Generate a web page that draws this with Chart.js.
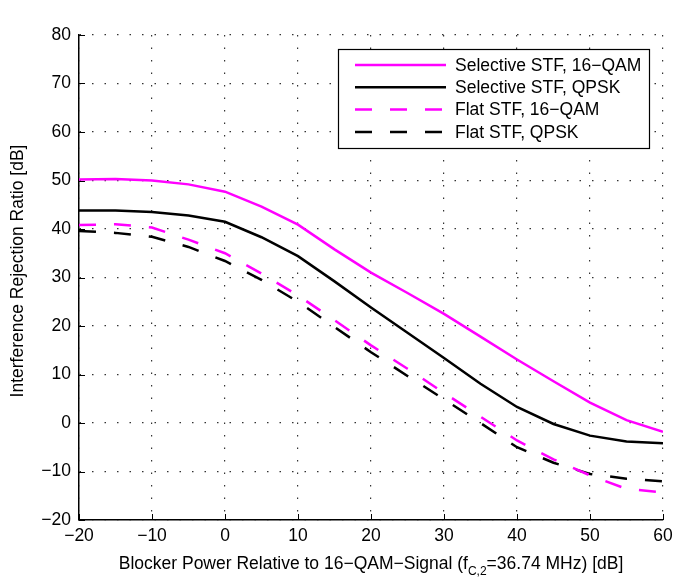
<!DOCTYPE html>
<html>
<head>
<meta charset="utf-8">
<script src="https://cdn.jsdelivr.net/npm/chart.js@4"></script>
<style>
  body { margin: 0; background: #fff; }
</style>
</head>
<body>
<canvas id="chartDiv" width="685" height="587"></canvas>
<script>
const blockerPower = [-20, -15, -10, -5, 0, 5, 10, 15, 20, 25, 30, 35, 40, 45, 50, 55, 60];
const selective16qam = [50.2, 50.3, 50.0, 49.2, 47.7, 44.6, 40.9, 35.8, 31.0, 26.8, 22.5, 17.8, 13.1, 8.6, 4.2, 0.6, -1.8];
const selectiveQpsk = [43.8, 43.8, 43.5, 42.8, 41.5, 38.3, 34.4, 29.2, 23.8, 18.6, 13.4, 8.1, 3.3, -0.2, -2.6, -3.8, -4.2];
const flat16qam = [40.8, 41.0, 40.3, 37.8, 35.0, 30.8, 26.3, 21.2, 16.0, 11.2, 6.2, 1.3, -3.6, -7.5, -10.8, -13.6, -14.3];
const flatQpsk = [39.6, 39.2, 38.4, 36.3, 33.4, 29.5, 25.0, 19.8, 14.6, 9.7, 4.9, 0.0, -5.0, -8.2, -10.5, -11.5, -12.0];
const seriesNames = ["Selective STF, 16\u2212QAM", "Selective STF, QPSK", "Flat STF, 16\u2212QAM", "Flat STF, QPSK"];

const FONT = "'Liberation Sans', Arial, sans-serif";
const FS = 17.5;
const MAGENTA = "#f0f";
const DASH = [17, 18];

const toPoints = (ys) => ys.map((y, i) => ({ x: blockerPower[i], y }));
const minus = (v) => String(v).replace("-", "\u2212");

// matlab style: inward ticks, legend box, axis labels (x one has a subscript)
const matlabBits = {
  id: "matlabBits",
  afterDraw(chart) {
    const { ctx, chartArea: a, scales } = chart;
    ctx.save();
    ctx.strokeStyle = "#000";
    ctx.lineWidth = 1;
    ctx.setLineDash([]);
    scales.y.ticks.forEach((t) => {
      const y = Math.round(scales.y.getPixelForValue(t.value)) + 0.5;
      ctx.beginPath();
      ctx.moveTo(a.left, y);
      ctx.lineTo(a.left + 6, y);
      ctx.stroke();
    });
    scales.x.ticks.forEach((t) => {
      const x = Math.round(scales.x.getPixelForValue(t.value)) + 0.5;
      ctx.beginPath();
      ctx.moveTo(x, a.bottom);
      ctx.lineTo(x, a.bottom - 6);
      ctx.stroke();
    });

    // legend
    const bx = 338, by = 49, bw = 311, bh = 99;
    ctx.fillStyle = "#fff";
    ctx.fillRect(bx, by, bw, bh);
    ctx.lineWidth = 1.2;
    ctx.strokeRect(bx + 0.5, by + 0.5, bw, bh);
    ctx.font = FS + "px " + FONT;
    ctx.textBaseline = "middle";
    chart.data.datasets.forEach((ds, i) => {
      const y = 65 + i * 22.3;
      ctx.strokeStyle = ds.borderColor;
      ctx.lineWidth = ds.borderWidth;
      ctx.setLineDash(ds.borderDash || []);
      ctx.beginPath();
      ctx.moveTo(355, y);
      ctx.lineTo(446, y);
      ctx.stroke();
      ctx.fillStyle = "#000";
      ctx.fillText(ds.label, 455, y + 1);
    });
    ctx.setLineDash([]);

    // y label
    ctx.save();
    ctx.translate(18, 271);
    ctx.rotate(-Math.PI / 2);
    ctx.textAlign = "center";
    ctx.textBaseline = "middle";
    ctx.font = FS + "px " + FONT;
    ctx.fillText("Interference Rejection Ratio [dB]", 0, 0);
    ctx.restore();

    // x label
    const p1 = "Blocker Power Relative to 16\u2212QAM\u2212Signal (f";
    const sub = "C,2";
    const p2 = "=36.74 MHz) [dB]";
    ctx.font = FS + "px " + FONT;
    const w1 = ctx.measureText(p1).width, w2 = ctx.measureText(p2).width;
    ctx.font = "12px " + FONT;
    const ws = ctx.measureText(sub).width;
    let x = (a.left + a.right) / 2 - (w1 + ws + w2) / 2;
    const base = 569;
    ctx.textAlign = "left";
    ctx.textBaseline = "alphabetic";
    ctx.fillStyle = "#000";
    ctx.font = FS + "px " + FONT;
    ctx.fillText(p1, x, base);
    x += w1;
    ctx.font = "12px " + FONT;
    ctx.fillText(sub, x, base + 6);
    x += ws;
    ctx.font = FS + "px " + FONT;
    ctx.fillText(p2, x, base);
    ctx.restore();
  },
};

const ctx = document.getElementById("chartDiv");
const gridStyle = { color: "#333", drawTicks: false, lineWidth: 1.2 };
const chart = new Chart(ctx, {
  type: "line",
  data: {
    datasets: [
      { label: seriesNames[0], data: toPoints(selective16qam), borderColor: MAGENTA, borderWidth: 2.5 },
      { label: seriesNames[1], data: toPoints(selectiveQpsk), borderColor: "#000", borderWidth: 2.5 },
      { label: seriesNames[2], data: toPoints(flat16qam), borderColor: MAGENTA, borderWidth: 2.5, borderDash: DASH },
      { label: seriesNames[3], data: toPoints(flatQpsk), borderColor: "#000", borderWidth: 2.5, borderDash: DASH },
    ],
  },
  options: {
    responsive: false,
    animation: false,
    events: [],
    layout: { padding: { top: 35, right: 22, left: 0, bottom: 0 } },
    elements: { point: { radius: 0 }, line: { tension: 0, fill: false } },
    plugins: { legend: { display: false }, tooltip: { enabled: false } },
    scales: {
      x: {
        type: "linear",
        min: -20,
        max: 60,
        afterFit: (s) => { s.height = 67; },
        ticks: { stepSize: 10, color: "#000", font: { family: FONT, size: FS }, padding: 6, callback: minus, maxRotation: 0 },
        grid: gridStyle,
        border: { display: true, color: "#000", width: 1.5, dash: [1.5, 11] },
      },
      y: {
        min: -20,
        max: 80,
        afterFit: (s) => { s.width = 79; },
        ticks: { stepSize: 10, color: "#000", font: { family: FONT, size: FS }, padding: 8, callback: minus },
        grid: gridStyle,
        border: { display: true, color: "#000", width: 1.5, dash: [1.5, 11] },
      },
    },
  },
  plugins: [matlabBits],
});
</script>
</body>
</html>
